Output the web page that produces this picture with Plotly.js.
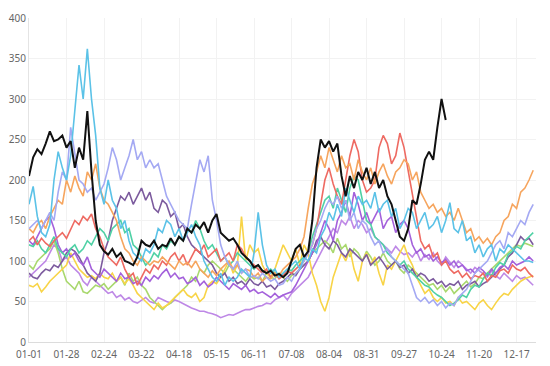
<!DOCTYPE html>
<html>
<head>
<meta charset="utf-8">
<script src="https://cdn.plot.ly/plotly-3.0.1.min.js"></script>
<style>html,body{margin:0;padding:0;background:#fff}#chart{width:550px;height:366px}</style>
</head>
<body>
<div id="chart"></div>
<script>
// tick labels (category axis shows every 27th day)
const tickLabels = ['01-01','01-28','02-24','03-22','04-18','05-15','06-11','07-08','08-04','08-31','09-27','10-24','11-20','12-17'];
const year = '2024';
const stepDays = 3; // values read every 3 days

// series values (one value every 3 days from 01-01)
const current = [205,228,238,232,245,260,248,250,255,240,
 248,215,240,225,285,210,150,120,112,108,
 115,105,110,100,98,95,105,125,120,118,
 125,115,120,118,128,120,130,125,140,135,
 145,140,148,135,150,158,135,130,125,128,
 120,110,105,100,92,95,88,85,88,82,
 84,80,85,100,115,120,105,112,150,215,
 250,240,248,235,245,205,180,205,190,210,
 200,215,195,210,190,200,180,170,150,130,
 125,140,175,170,195,225,235,225,265,300,
 274];
const skyblue = [170,192,155,135,130,145,200,235,215,200,
 230,290,342,300,362,300,255,190,170,200,
 175,165,140,150,125,110,105,100,115,110,
 120,140,135,150,145,130,140,125,135,145,
 130,120,100,90,80,75,85,70,80,75,
 80,90,85,80,110,160,120,95,85,90,
 80,85,90,95,100,90,105,100,115,110,
 130,140,160,150,170,155,190,175,160,180,
 170,175,165,185,160,170,175,155,165,140,
 150,165,160,140,150,160,140,145,155,135,
 150,172,140,135,150,125,130,110,120,105,
 115,120,100,115,110,120,115,110,105,100,
 100,98];
const lavender = [140,145,150,140,150,160,150,185,210,200,
 265,230,200,195,185,190,175,185,195,215,
 240,225,200,215,230,250,225,235,215,225,
 215,220,200,180,170,160,150,145,140,170,
 200,225,210,230,175,150,120,105,95,90,
 100,85,90,80,82,78,85,80,75,78,
 70,72,80,75,85,90,100,110,120,140,
 150,165,175,170,180,165,175,150,160,140,
 150,145,130,120,125,110,115,105,100,95,
 90,85,70,55,50,55,48,52,45,50,
 42,48,45,55,60,65,75,85,90,95,
 100,110,120,125,115,135,130,140,150,145,
 160,170];
const orange = [140,135,145,150,140,155,165,175,170,200,
 185,205,190,180,210,200,220,190,175,170,
 160,150,130,115,110,100,95,105,100,95,
 100,98,105,100,95,90,100,95,98,92,
 100,90,85,80,88,82,90,95,100,90,
 95,85,90,88,80,85,75,80,78,85,
 82,90,95,100,105,115,130,165,195,210,
 230,215,240,225,210,230,215,220,200,225,
 210,200,215,195,210,220,205,195,210,215,
 225,220,200,210,185,175,165,170,160,165,
 155,160,150,165,150,135,140,125,130,122,
 128,120,130,135,150,155,170,165,185,190,
 200,212];
const red = [125,130,120,128,122,118,125,130,135,128,
 140,150,145,155,150,158,140,130,115,105,
 100,95,105,90,80,85,70,80,90,85,
 95,90,100,95,105,110,100,108,95,105,
 115,110,120,105,110,115,100,105,110,100,
 120,115,105,100,95,90,85,90,80,85,
 78,82,88,85,90,95,100,110,120,140,
 170,200,215,195,180,170,200,230,250,235,
 200,185,190,200,240,255,245,220,230,258,
 240,210,180,150,125,115,120,105,110,95,
 100,90,85,88,80,85,78,82,80,85,
 75,82,80,88,90,85,95,90,88,92,
 85,80];
const teal = [120,118,125,115,110,120,130,115,110,105,
 115,120,110,115,125,120,130,140,135,125,
 140,145,150,135,140,120,115,105,95,100,
 110,105,120,115,125,120,130,125,140,135,
 150,140,125,115,120,110,100,105,95,100,
 110,105,100,95,90,95,88,85,90,85,
 80,85,90,88,95,100,105,110,130,145,
 160,175,180,165,190,175,160,190,205,200,
 175,150,145,130,125,120,110,105,100,95,
 100,90,85,80,75,70,68,62,58,55,
 50,45,48,52,58,55,65,70,68,78,
 85,82,92,98,95,108,112,118,115,125,
 130,135];
const yellow = [70,68,72,62,68,75,80,85,90,95,
 110,100,90,85,80,82,78,85,80,78,
 85,75,80,72,78,70,60,55,50,45,
 40,48,42,45,50,55,60,65,58,55,
 60,50,55,70,75,72,80,90,100,85,
 95,155,100,120,110,115,95,85,80,90,
 105,120,110,100,115,95,120,110,85,70,
 50,38,55,80,95,110,100,115,90,75,
 100,110,95,105,85,70,95,90,100,110,
 120,105,95,80,70,60,65,55,50,55,
 48,50,45,55,48,50,45,40,48,52,
 45,40,48,55,60,58,65,70,75,78,
 80,82];
const lightgreen = [95,90,100,105,110,115,125,110,90,75,
 70,65,75,62,60,65,70,68,72,65,
 70,75,80,70,85,75,80,70,65,55,
 50,45,40,45,48,55,60,65,70,80,
 75,90,85,95,100,95,90,85,95,90,
 85,80,75,82,78,80,75,85,80,78,
 85,80,75,82,85,90,95,100,110,115,
 120,125,120,110,128,115,120,105,115,110,
 100,112,105,95,100,110,100,95,100,90,
 85,95,90,85,80,75,70,72,65,70,
 62,68,60,65,70,75,68,72,80,78,
 85,90,95,100,105,110,115,120,118,122,
 120,118];
const purple = [125,120,130,140,150,155,140,120,110,115,
 105,110,100,95,105,90,85,80,90,85,
 80,75,85,78,80,72,75,70,80,75,
 82,78,85,90,80,85,78,80,72,75,
 80,70,75,68,72,80,75,70,65,72,
 68,65,70,62,65,60,62,58,55,60,
 55,58,60,62,70,80,90,100,110,120,
 135,150,140,125,150,160,175,155,185,170,
 150,160,145,155,165,140,150,155,135,145,
 150,140,120,110,115,105,108,100,105,98,
 102,95,100,92,95,88,90,85,92,88,
 82,90,85,92,95,90,100,95,98,100,
 105,100];
const darkpurple = [85,80,78,85,90,88,95,92,100,110,
 115,112,105,95,85,80,75,85,110,125,
 150,165,180,175,185,170,180,190,175,185,
 165,160,175,170,155,160,140,145,130,120,
 115,110,105,100,95,85,80,85,75,80,
 72,75,70,78,72,70,75,68,70,65,
 72,75,80,85,82,90,95,100,110,125,
 130,120,115,125,120,110,105,115,110,105,
 100,108,95,100,105,98,90,95,100,92,
 95,85,90,80,85,82,75,78,72,75,
 68,72,70,75,65,70,72,75,68,72,
 75,80,85,90,95,105,110,120,130,125,
 128,120];
const lilac = [80,85,90,95,100,110,120,115,100,105,
 95,90,85,75,70,80,75,70,65,60,
 62,55,58,52,55,50,48,52,55,50,
 48,55,52,50,48,52,50,47,45,42,
 40,38,38,36,35,33,30,32,34,33,
 36,38,40,40,42,44,45,48,47,52,
 55,58,52,60,65,70,75,80,90,100,
 110,120,130,140,135,150,145,155,140,150,
 145,135,140,130,125,120,115,110,118,112,
 108,110,105,112,100,108,102,110,100,95,
 105,98,92,100,95,90,85,92,88,85,
 80,88,82,78,85,80,75,82,78,80,
 75,70];

function dateOf(i) {
  const dt = new Date(Date.UTC(2024, 0, 1 + i * stepDays));
  return dt.toISOString().slice(0, 10);
}
function xsFor(arr) { return arr.map((_, i) => dateOf(i)); }

const seriesList = [
  {y: lilac, color: '#BE88E6'},
  {y: lightgreen, color: '#A9D86E'},
  {y: yellow, color: '#F8D447'},
  {y: darkpurple, color: '#7C5B9E'},
  {y: purple, color: '#A461DB'},
  {y: teal, color: '#4FD1A5'},
  {y: red, color: '#EE6A62'},
  {y: orange, color: '#F6A55E'},
  {y: lavender, color: '#A4A9F3'},
  {y: skyblue, color: '#5BC2E7'},
  {y: current, color: '#111111', w: 2}
];

const traces = seriesList.map(s => ({
  type: 'scatter', mode: 'lines',
  x: xsFor(s.y), y: s.y,
  line: {color: s.color, width: s.w || 1.6},
  hoverinfo: 'skip'
}));

const layout = {
  width: 550, height: 366,
  margin: {l: 29, r: 14, t: 18, b: 24},
  paper_bgcolor: '#fff', plot_bgcolor: '#fff',
  showlegend: false,
  font: {family: 'Noto Sans, Open Sans, sans-serif', size: 10, color: '#666'},
  xaxis: {
    type: 'date',
    range: [year + '-01-01', year + '-12-31'],
    tickmode: 'array',
    tickvals: tickLabels.map(t => year + '-' + t),
    ticktext: tickLabels,
    showgrid: true, gridcolor: '#f2f2f2', gridwidth: 1,
    showline: true, linecolor: '#dcdcdc', linewidth: 1,
    ticks: '', zeroline: false,
    ticklabelstandoff: 3,
    tickfont: {size: 10, color: '#666'}
  },
  yaxis: {
    range: [0, 400], dtick: 50, tick0: 0,
    showgrid: true, gridcolor: '#f2f2f2', gridwidth: 1,
    showline: true, linecolor: '#e4e4e4', linewidth: 1,
    ticks: '', zeroline: false,
    tickfont: {size: 10, color: '#666'}
  }
};

Plotly.newPlot('chart', traces, layout, {displayModeBar: false, staticPlot: true});
</script>
</body>
</html>
